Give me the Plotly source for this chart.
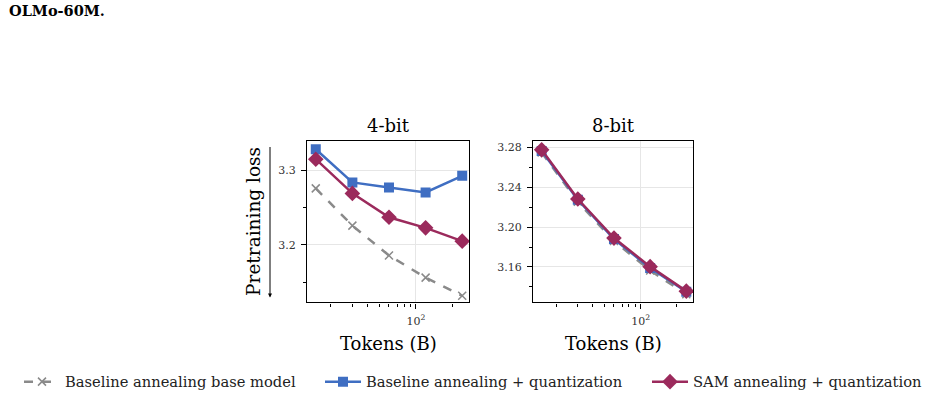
import plotly.graph_objects as go

# ---- data ----
tokens = [15, 30, 60, 120, 240]  # billions
series_names = ["Baseline annealing base model",
                "Baseline annealing + quantization",
                "SAM annealing + quantization"]
loss_4bit_base = [3.2756, 3.2257, 3.1857, 3.1560, 3.1316]
loss_4bit_quant = [3.3280, 3.2836, 3.2769, 3.2702, 3.2924]
loss_4bit_sam = [3.3147, 3.2689, 3.2369, 3.2227, 3.2049]
loss_8bit_base = [3.2750, 3.2255, 3.1860, 3.1565, 3.1325]
loss_8bit_quant = [3.2765, 3.2275, 3.1880, 3.1590, 3.1350]
loss_8bit_sam = [3.2777, 3.2283, 3.1890, 3.1603, 3.1357]
panel_titles = ["4-bit", "8-bit"]

W, H = 929, 399
GRAY, BLUE, RED = "#8a8a8a", "#3f6ec2", "#9b2a5c"
SERIF = "DejaVu Serif"

def px(x):
    return x / W

def py(y):
    return 1 - y / H

fig = go.Figure()

styles = [
    dict(color=GRAY, dash="dash", symbol="x-thin", msize=8),
    dict(color=BLUE, dash="solid", symbol="square", msize=10),
    dict(color=RED, dash="solid", symbol="diamond", msize=12),
]
panels = [
    ("x", "y", [loss_4bit_base, loss_4bit_quant, loss_4bit_sam]),
    ("x2", "y2", [loss_8bit_base, loss_8bit_quant, loss_8bit_sam]),
]
legend_ids = ["legend", "legend2", "legend3"]
for pi, (xa, ya, ser) in enumerate(panels):
    for si, vals in enumerate(ser):
        st = styles[si]
        fig.add_trace(go.Scatter(
            x=tokens, y=vals, xaxis=xa, yaxis=ya, mode="lines+markers",
            name=series_names[si], showlegend=(pi == 0),
            legend=legend_ids[si],
            line=dict(color=st["color"], width=2.5, dash=st["dash"]),
            marker=dict(symbol=st["symbol"], size=st["msize"], color=st["color"],
                        line=dict(color=st["color"], width=1.5 if si == 0 else 0)),
        ))

xdom1 = [px(307), px(469)]
xdom2 = [px(533), px(693)]
ydom = [py(304), py(142)]
xminor = [20, 30, 40, 50, 60, 70, 80, 90, 200]
TICKFONT = dict(family=SERIF, size=11, color="#333")

common_x = dict(type="log", range=[1.104, 2.436], tickvals=[100], ticktext=["10<sup>2</sup>"],
                ticks="outside", ticklen=5, tickcolor="black", showgrid=True,
                gridcolor="#e6e6e6", gridwidth=1, showline=True, linecolor="black",
                linewidth=1.3, mirror=True, zeroline=False, tickfont=TICKFONT,
                ticklabelstandoff=3,
                minor=dict(tickvals=xminor, ticks="outside", ticklen=3, tickcolor="black", showgrid=False))
common_y = dict(ticks="outside", ticklen=5, tickcolor="black",
                showgrid=True, gridcolor="#e6e6e6", showline=True, linecolor="black",
                linewidth=1.3, mirror=True, zeroline=False, tickfont=TICKFONT,
                ticklabelstandoff=3)
fig.update_layout(
    xaxis=dict(domain=xdom1, anchor="y", **common_x),
    xaxis2=dict(domain=xdom2, anchor="y2", **common_x),
    yaxis=dict(domain=ydom, anchor="x", range=[3.1227, 3.3387], tickvals=[3.2, 3.3],
               ticktext=["3.2", "3.3"],
               minor=dict(tickvals=[3.15, 3.25, 3.35], ticks="outside", ticklen=3,
                          tickcolor="black", showgrid=False), **common_y),
    yaxis2=dict(domain=ydom, anchor="x2", range=[3.1243, 3.2863],
                tickvals=[3.16, 3.20, 3.24, 3.28], ticktext=["3.16", "3.20", "3.24", "3.28"],
                minor=dict(tickvals=[3.14, 3.18, 3.22, 3.26], ticks="outside", ticklen=3,
                           tickcolor="black", showgrid=False), **common_y),
    width=W, height=H, margin=dict(l=0, r=0, t=0, b=0),
    paper_bgcolor="white", plot_bgcolor="white",
    font=dict(family=SERIF, color="black"),
)

leg_common = dict(orientation="h", xanchor="left", yanchor="middle", y=py(384),
                  font=dict(family=SERIF, size=14.7, color="#222"),
                  bgcolor="rgba(0,0,0,0)", itemwidth=36)
fig.update_layout(
    legend=dict(x=px(19), **leg_common),
    legend2=dict(x=px(320), **leg_common),
    legend3=dict(x=px(647), **leg_common),
)

ann = []
# panel titles
for t, (a, b) in zip(panel_titles, [xdom1, xdom2]):
    ann.append(dict(text=t, x=(a + b) / 2, y=py(126), xref="paper", yref="paper",
                    showarrow=False, font=dict(family=SERIF, size=18), xanchor="center", yanchor="middle"))
    ann.append(dict(text="Tokens (B)", x=(a + b) / 2, y=py(345), xref="paper", yref="paper",
                    showarrow=False, font=dict(family=SERIF, size=18), xanchor="center", yanchor="middle"))
ann.append(dict(text="Pretraining loss", x=px(254), y=py(223), xref="paper", yref="paper",
                showarrow=False, textangle=-90, font=dict(family=SERIF, size=18.5),
                xanchor="center", yanchor="middle"))
# downward arrow next to the y label
ann.append(dict(text="", x=px(270), y=py(299), xref="paper", yref="paper",
                ax=0, ay=-152, axref="pixel", ayref="pixel",
                showarrow=True, arrowhead=2, arrowsize=0.8, arrowwidth=1, arrowcolor="black"))
ann.append(dict(text="<b>OLMo-60M.</b>", x=px(7), y=py(11), xref="paper", yref="paper",
                showarrow=False, font=dict(family=SERIF, size=14.5, color="black"),
                xanchor="left", yanchor="middle"))
fig.update_layout(annotations=ann)

fig.write_html("out.html")
